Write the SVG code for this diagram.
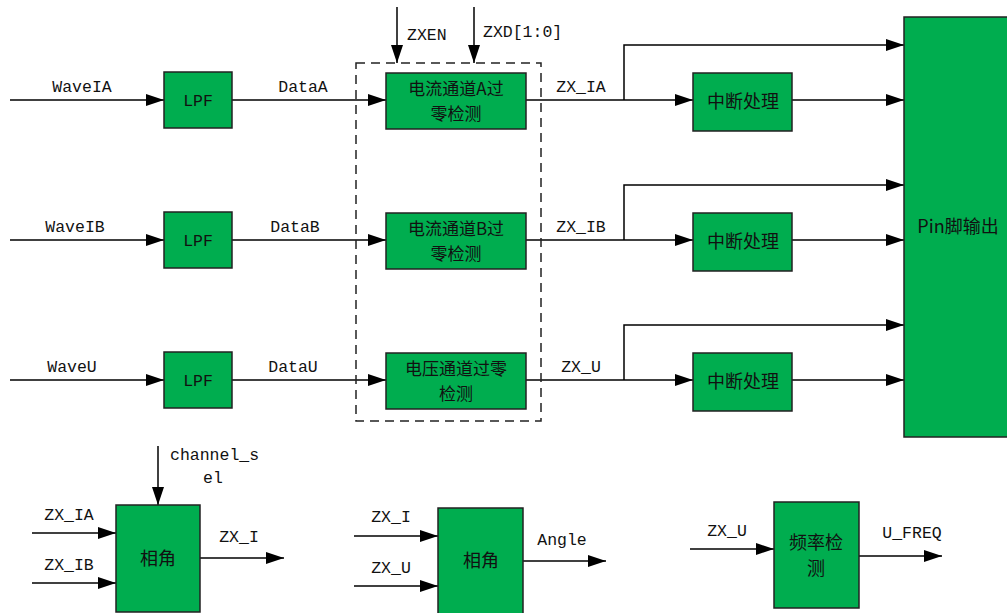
<svg xmlns="http://www.w3.org/2000/svg" width="1007" height="613" viewBox="0 0 1007 613">
<defs>
<marker id="ah" markerUnits="userSpaceOnUse" markerWidth="18" markerHeight="12" refX="18" refY="6" orient="auto"><path d="M0,0 L18,6 L0,12 z" fill="#000"/></marker>
<style>
.b{fill:#00AD4F;stroke:#222;stroke-width:1.5}
.l{fill:none;stroke:#000;stroke-width:1.5}
.a{fill:none;stroke:#000;stroke-width:1.5;marker-end:url(#ah)}
.t{font-family:"Liberation Mono",monospace;font-size:16.5px;fill:#111}
.c{font-family:"Noto Sans CJK SC","Noto Sans",sans-serif;font-size:18px;fill:#111;text-anchor:middle}
.d{font-size:17px}
.m{text-anchor:middle}
</style>
</defs>
<rect width="1007" height="613" fill="#fff"/>
<g id="connectors">
<line class="a" x1="10" y1="100" x2="164" y2="100"/>
<line class="a" x1="232" y1="100" x2="386" y2="100"/>
<line class="a" x1="526" y1="100" x2="693" y2="100"/>
<polyline class="a" points="624,100 624,45 904,45"/>
<line class="a" x1="792" y1="100" x2="904" y2="100"/>
<line class="a" x1="10" y1="240" x2="164" y2="240"/>
<line class="a" x1="232" y1="240" x2="386" y2="240"/>
<line class="a" x1="526" y1="240" x2="693" y2="240"/>
<polyline class="a" points="624,240 624,185 904,185"/>
<line class="a" x1="792" y1="240" x2="904" y2="240"/>
<line class="a" x1="10" y1="380" x2="164" y2="380"/>
<line class="a" x1="232" y1="380" x2="386" y2="380"/>
<line class="a" x1="526" y1="380" x2="693" y2="380"/>
<polyline class="a" points="624,380 624,325 904,325"/>
<line class="a" x1="792" y1="380" x2="904" y2="380"/>
<line class="a" x1="397" y1="7" x2="397" y2="63"/>
<line class="a" x1="474" y1="7" x2="474" y2="63"/>
<rect x="356" y="63" width="185" height="358" fill="none" stroke="#222" stroke-width="1.5" stroke-dasharray="9,6"/>
<line class="a" x1="158" y1="446" x2="158" y2="505"/>
<line class="a" x1="32" y1="533" x2="116" y2="533"/>
<line class="a" x1="32" y1="583" x2="116" y2="583"/>
<line class="a" x1="200" y1="558" x2="284" y2="558"/>
<line class="a" x1="354" y1="536" x2="438" y2="536"/>
<line class="a" x1="354" y1="586" x2="438" y2="586"/>
<line class="a" x1="523" y1="561" x2="606" y2="561"/>
<line class="a" x1="690" y1="549" x2="774" y2="549"/>
<line class="a" x1="859" y1="556" x2="942" y2="556"/>
</g>
<g id="labels">
<text class="t m" x="82" y="92">WaveIA</text>
<text class="t m" x="303" y="92">DataA</text>
<text class="t m" x="75" y="232">WaveIB</text>
<text class="t m" x="295" y="232">DataB</text>
<text class="t m" x="72" y="372">WaveU</text>
<text class="t m" x="293" y="372">DataU</text>
<text class="t m" x="581" y="92">ZX_IA</text>
<text class="t m" x="581" y="232">ZX_IB</text>
<text class="t m" x="581" y="372">ZX_U</text>
<text class="t" x="407" y="40">ZXEN</text>
<text class="t" x="483" y="37">ZXD[1:0]</text>
<text class="t" x="170" y="460">channel_s</text>
<text class="t m" x="213" y="483">el</text>
<text class="t m" x="69" y="520">ZX_IA</text>
<text class="t m" x="69" y="570">ZX_IB</text>
<text class="t m" x="239" y="542">ZX_I</text>
<text class="t m" x="391" y="522">ZX_I</text>
<text class="t m" x="391" y="573">ZX_U</text>
<text class="t m" x="562" y="545">Angle</text>
<text class="t m" x="727" y="536">ZX_U</text>
<text class="t m" x="912" y="538">U_FREQ</text>
</g>
<g id="lpfA"><rect class="b" x="164" y="72" width="68" height="56"/><text class="t m" x="198" y="106">LPF</text></g>
<g id="lpfB"><rect class="b" x="164" y="212" width="68" height="56"/><text class="t m" x="198" y="246">LPF</text></g>
<g id="lpfU"><rect class="b" x="164" y="352" width="68" height="56"/><text class="t m" x="198" y="386">LPF</text></g>
<g id="zcA"><rect class="b" x="386" y="73" width="140" height="56"/><text class="c d" x="456" y="95">电流通道A过</text><text class="c d" x="456" y="120">零检测</text></g>
<g id="zcB"><rect class="b" x="386" y="213" width="140" height="56"/><text class="c d" x="456" y="235">电流通道B过</text><text class="c d" x="456" y="260">零检测</text></g>
<g id="zcU"><rect class="b" x="386" y="353" width="140" height="56"/><text class="c d" x="456" y="375">电压通道过零</text><text class="c d" x="456" y="400">检测</text></g>
<g id="intA"><rect class="b" x="693" y="73" width="99" height="58"/><text class="c" x="743" y="108">中断处理</text></g>
<g id="intB"><rect class="b" x="693" y="213" width="99" height="58"/><text class="c" x="743" y="248">中断处理</text></g>
<g id="intU"><rect class="b" x="693" y="353" width="99" height="58"/><text class="c" x="743" y="388">中断处理</text></g>
<g id="pin"><rect class="b" x="904" y="17" width="104" height="420"/><text class="c" x="958" y="233">Pin脚输出</text></g>
<g id="phase1"><rect class="b" x="116" y="505" width="84" height="107"/><text class="c" x="158" y="565">相角</text></g>
<g id="phase2"><rect class="b" x="438" y="508" width="85" height="110"/><text class="c" x="481" y="567">相角</text></g>
<g id="freq"><rect class="b" x="774" y="502" width="85" height="106"/><text class="c" x="816" y="549">频率检</text><text class="c" x="816" y="575">测</text></g>
</svg>
